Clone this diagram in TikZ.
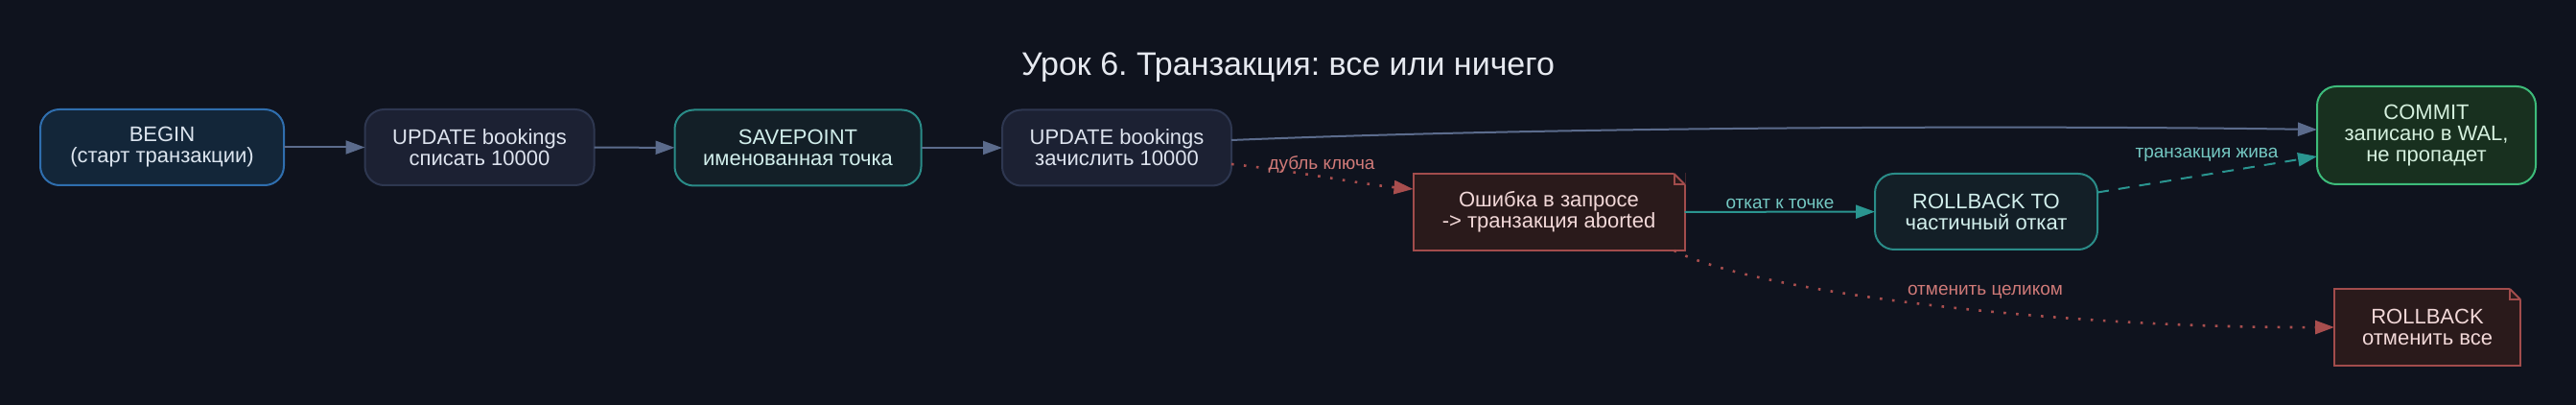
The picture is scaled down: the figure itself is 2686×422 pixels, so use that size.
\documentclass[tikz,border=0pt]{standalone}
\usepackage{fontspec}
\setmainfont{Liberation Sans}
\frenchspacing
\usetikzlibrary{arrows.meta,calc}
\definecolor{bgc}{HTML}{0F131E}
\definecolor{beginfill}{HTML}{132639}
\definecolor{beginline}{HTML}{2F6EAE}
\definecolor{begintext}{HTML}{DCE5EF}
\definecolor{updfill}{HTML}{1C2133}
\definecolor{updline}{HTML}{2E3750}
\definecolor{updtext}{HTML}{DDE3EE}
\definecolor{spfill}{HTML}{131F27}
\definecolor{spline}{HTML}{2A8C88}
\definecolor{sptext}{HTML}{D2EFEC}
\definecolor{cmfill}{HTML}{18301F}
\definecolor{cmline}{HTML}{3DBB7A}
\definecolor{cmtext}{HTML}{D5F0DE}
\definecolor{notefill}{HTML}{2A1A1B}
\definecolor{noteline}{HTML}{A24C4C}
\definecolor{notetext}{HTML}{F2D8D8}
\definecolor{gedgec}{HTML}{5B6B8C}
\definecolor{tedgec}{HTML}{2A9590}
\definecolor{redgec}{HTML}{A84E4E}
\definecolor{tlabel}{HTML}{74C8C2}
\definecolor{rlabel}{HTML}{D07A78}
\definecolor{titlec}{HTML}{E6E9F0}
\newcommand\foldcorner[2]{%
  \fill[bgc] ($(#1.north east)+(-11.5,-1)$) -- ($(#1.north east)+(1,-1)$) -- ($(#1.north east)+(1,11.5)$) -- cycle;
  \draw[#2, line width=1pt, line join=miter] ($(#1.north east)+(-11,0)$) -- ($(#1.north east)+(0,11)$);
  \draw[#2, line width=1pt] ($(#1.north east)+(-11,0)$) -- ++(0,11) -- ($(#1.north east)+(0,11)$);
}
\tikzset{
  base/.style={font=\fontsize{11}{11}\selectfont, align=center, line width=1pt, inner sep=0pt, outer sep=0pt},
  rbox/.style={base, rounded corners=10pt, draw, minimum height=39.5pt},
  beginbox/.style={rbox, fill=beginfill, draw=beginline, text=begintext},
  updbox/.style={rbox, fill=updfill, draw=updline, text=updtext},
  spbox/.style={rbox, fill=spfill, draw=spline, text=sptext},
  cmbox/.style={rbox, fill=cmfill, draw=cmline, text=cmtext},
  notebox/.style={base, draw=noteline, fill=notefill, text=notetext, minimum height=40pt},
  tip/.style={-{Triangle[length=10pt,width=7pt]}},
  gedge/.style={tip, line width=1pt, draw=gedgec},
  tedge/.style={tip, line width=1pt, draw=tedgec},
  redge/.style={tip, line width=1.3pt, draw=redgec, dash pattern=on 1.3pt off 5.2pt},
  elabel/.style={font=\fontsize{9.5}{9.5}\selectfont, inner sep=0pt, anchor=base},
}
\begin{document}
\begin{tikzpicture}[x=0.5pt,y=-0.5pt]
\fill[bgc] (0,0) rectangle (2686,422);
\useasboundingbox (0,0) rectangle (2686,422);
\node[font=\fontsize{17}{17}\selectfont, text=titlec, anchor=base, inner sep=0pt] (title) at (1343,79) {Урок 6. Транзакция: все или ничего};

\node[beginbox, minimum width=127pt] (begin) at (169,153.5) {BEGIN\\(старт транзакции)};
\node[updbox, minimum width=119.5pt] (u1) at (500,153.5) {UPDATE bookings\\списать 10000};
\node[spbox, minimum width=128.5pt] (sp) at (832,154) {SAVEPOINT\\именованная точка};
\node[updbox, minimum width=119.5pt] (u2) at (1164.5,154) {UPDATE bookings\\зачислить 10000};
\node[notebox, minimum width=141.5pt] (err) at (1615,221) {Ошибка в запросе\\-> транзакция aborted};
\node[spbox, minimum width=116pt] (rbto) at (2071,220.5) {ROLLBACK TO\\частичный откат};
\node[cmbox, minimum width=114pt, minimum height=51pt] (commit) at (2530,141) {COMMIT\\записано в WAL,\\не пропадет};
\node[notebox, minimum width=97pt] (rb) at (2531,341) {ROLLBACK\\отменить все};
\foldcorner{err}{noteline}
\foldcorner{rb}{noteline}

\draw[gedge] (begin) -- (u1);
\draw[gedge] (u1) -- (sp);
\draw[gedge] (sp) -- (u2);
\draw[gedge] ($(u2.east)+(0,-8)$) .. controls (1650,131) and (2150,131) .. ($(commit.west)+(0,-6)$);
\draw[redge] ($(u2.east)+(0,17)$) .. controls (1350,178) and (1420,192) .. ($(err.west)+(0,-24)$);
\node[elabel, text=rlabel] (l1) at (1378,177) {дубль ключа};
\draw[tedge] (err) -- (rbto);
\node[elabel, text=tlabel] (l2) at (1856,218) {откат к точке};
\draw[tedge, dash pattern=on 6pt off 5pt] ($(rbto.east)+(0,-20)$) -- ($(commit.west)+(0,22)$);
\node[elabel, text=tlabel] (l3) at (2301,165) {транзакция жива};
\draw[redge] ($(err.south east)+(-11,0)$) .. controls (1830,305) and (2150,342) .. (rb.west);
\node[elabel, text=rlabel] (l4) at (2070,307.5) {отменить целиком};
\end{tikzpicture}
\end{document}
